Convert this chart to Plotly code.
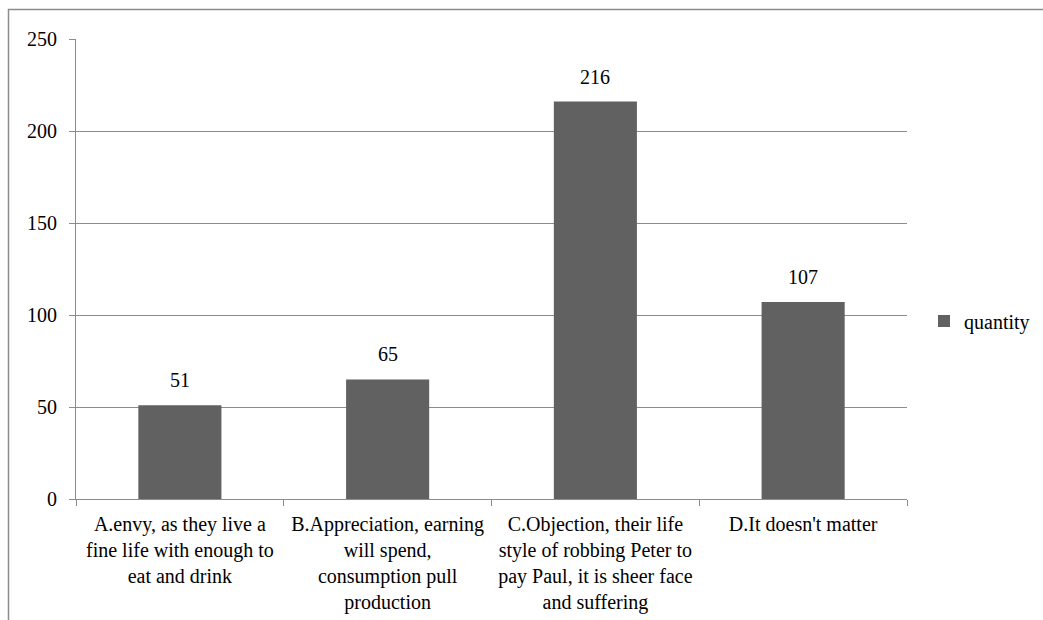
import plotly.graph_objects as go

categories = [
    "A.envy, as they live a<br>fine life with enough to<br>eat and drink",
    "B.Appreciation, earning<br>will spend,<br>consumption pull<br>production",
    "C.Objection, their life<br>style of robbing Peter to<br>pay Paul, it is sheer face<br>and suffering",
    "D.It doesn't matter",
]
quantity = [51, 65, 216, 107]
series_name = "quantity"
y_ticks = [0, 50, 100, 150, 200, 250]

W, H = 1043, 620
L, R, T, B = 76, 136, 39, 121
pw, ph = W - L - R, H - T - B

FONT = "Liberation Serif, Times New Roman, serif"
FS = 20
GRID = "#8c8c8c"
BAR = "#616161"

fig = go.Figure()
fig.add_trace(go.Bar(
    x=categories, y=quantity, name=series_name,
    marker=dict(color=BAR, line=dict(width=0)),
    width=0.4,
    showlegend=True,
))
for c, v in zip(categories, quantity):
    fig.add_annotation(x=c, y=v, text=str(v), showarrow=False, yanchor="bottom",
                       yshift=12, font=dict(family=FONT, size=FS, color="#000000"))

fig.update_layout(
    width=W, height=H,
    margin=dict(l=L, r=R, t=T, b=B, autoexpand=False),
    paper_bgcolor="white", plot_bgcolor="white",
    font=dict(family=FONT, size=FS, color="#000000"),
    showlegend=True,
    legend=dict(x=(924 - L) / pw, y=(499 - 321) / ph, xanchor="left", yanchor="middle",
                font=dict(family=FONT, size=FS), itemwidth=30, tracegroupgap=0,
                bgcolor="rgba(0,0,0,0)"),
    bargap=0.6,
)
fig.update_xaxes(
    type="category", showline=True, linecolor=GRID, linewidth=1,
    ticks="outside", tickson="boundaries", ticklen=6, tickcolor=GRID, tickwidth=1,
    showgrid=False, tickfont=dict(family=FONT, size=FS), tickangle=0,
    ticklabelstandoff=7,
)
fig.update_yaxes(
    range=[0, 250], tickvals=y_ticks, showline=True, linecolor=GRID, linewidth=1,
    ticks="outside", ticklen=6, tickcolor=GRID, tickwidth=1,
    showgrid=True, gridcolor=GRID, gridwidth=1, zeroline=False,
    tickfont=dict(family=FONT, size=FS), ticklabelstandoff=8,
)
# outer chart border (top and left visible; extends past the canvas)
fig.add_shape(type="rect", xref="paper", yref="paper",
              x0=(8.5 - L) / pw, x1=(W + 20 - L) / pw,
              y0=(499 - (H + 20)) / ph, y1=(499 - 9.5) / ph,
              line=dict(color=GRID, width=1.5), fillcolor="rgba(0,0,0,0)", layer="below")

fig.write_html("out.html", config={"displayModeBar": False},
               post_script="document.body.style.margin='0';document.body.style.overflow='hidden';")
